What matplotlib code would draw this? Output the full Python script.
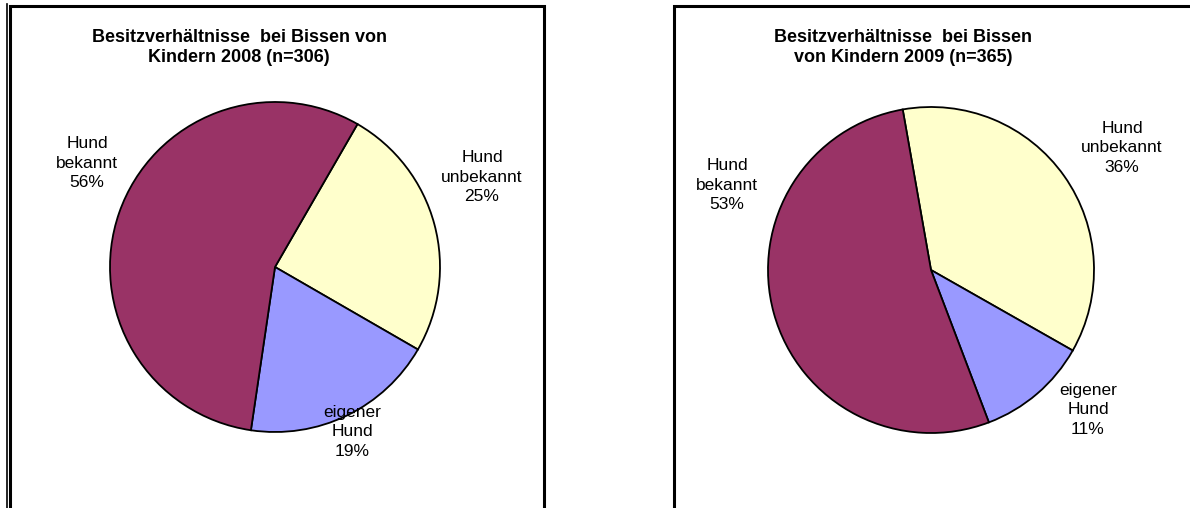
import matplotlib
matplotlib.use("Agg")
import matplotlib.pyplot as plt
from matplotlib.lines import Line2D

plt.rcParams['font.family'] = ['Liberation Sans', 'DejaVu Sans']

categories = ["Hund\nunbekannt", "eigener\nHund", "Hund\nbekannt"]
values_2008 = [25, 19, 56]
values_2009 = [36, 11, 53]
title_2008 = "Besitzverhältnisse  bei Bissen von\nKindern 2008 (n=306)"
title_2009 = "Besitzverhältnisse  bei Bissen\nvon Kindern 2009 (n=365)"
colors = ["#FFFFCC", "#9999FF", "#993366"]

W, H = 1190, 508
fig = plt.figure(figsize=(W / 100, H / 100), dpi=100)
ax = fig.add_axes([0, 0, 1, 1])

def py(y):
    return H - y

# panel borders
lw = 2.2
for (x0, x1) in [(9.5, 544), (674, 1200)]:
    ax.add_line(Line2D([x0, x0, x1, x1], [py(520), py(6), py(6), py(520)],
                       color="black", lw=lw, solid_joinstyle="miter"))
ax.add_line(Line2D([7, 7], [py(520), py(4)], color="black", lw=1.2))

panels = [
    dict(vals=values_2008, title=title_2008, center=(275, 267), r=165, start=60,
         title_xy=(239, 47.5),
         label_xy=[(482, 177), (352, 432), (87, 163)]),
    dict(vals=values_2009, title=title_2009, center=(931, 270), r=163, start=100,
         title_xy=(903, 47.5),
         label_xy=[(1122, 148), (1088, 410), (727, 185)]),
]

for p in panels:
    cx, cy = p["center"]
    ax.pie(p["vals"], colors=colors, center=(cx, py(cy)), radius=p["r"],
           startangle=p["start"], counterclock=False,
           wedgeprops=dict(edgecolor="black", linewidth=1.3))
    tx, ty = p["title_xy"]
    ax.text(tx, py(ty), p["title"], ha="center", va="center",
            fontsize=13, fontweight="bold", linespacing=1.3)
    for cat, v, (lx, ly) in zip(categories, p["vals"], p["label_xy"]):
        ax.text(lx, py(ly), f"{cat}\n{v}%", ha="center", va="center",
                fontsize=12.5, linespacing=1.35)

ax.set_xlim(0, W)
ax.set_ylim(0, H)
ax.set_aspect("equal")
ax.axis("off")

fig.savefig("out.png", dpi=100, facecolor="white")
